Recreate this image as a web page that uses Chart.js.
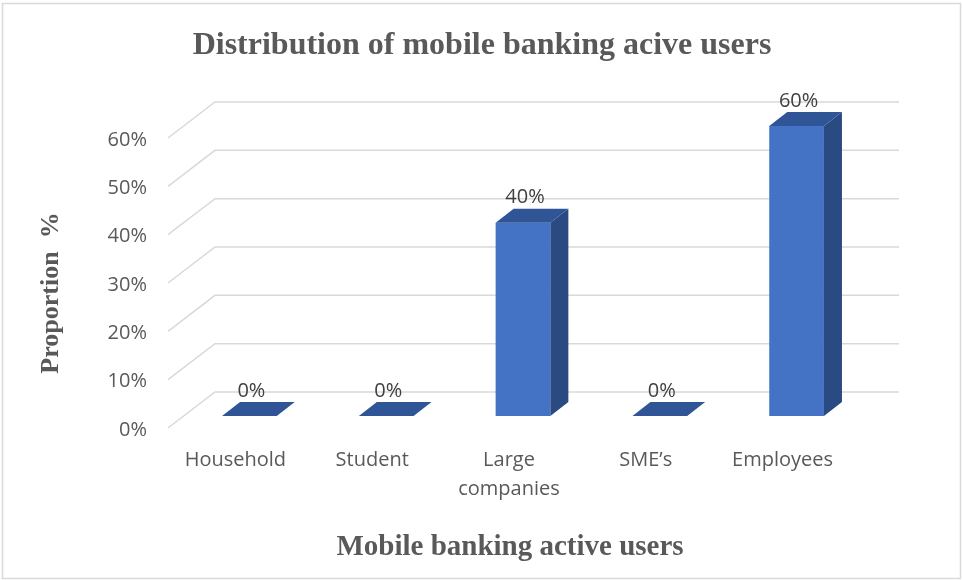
<!DOCTYPE html>
<html>
<head>
<meta charset="utf-8">
<script src="https://cdn.jsdelivr.net/npm/chart.js@4/dist/chart.umd.min.js"></script>
<style>
  html, body { margin: 0; padding: 0; background: #ffffff; }
  #wrap { width: 962px; height: 580px; }
</style>
</head>
<body>
<div id="wrap"><canvas id="c" width="962" height="580"></canvas></div>
<script>
// Categories and their share of active mobile banking users
const categories = ['Household', 'Student', ['Large', 'companies'], 'SME\u2019s', 'Employees'];
const shares = [0, 0, 0.40, 0, 0.60];
const yTickValues = [0, 0.1, 0.2, 0.3, 0.4, 0.5, 0.6];
const yTickLabels = ['0%', '10%', '20%', '30%', '40%', '50%', '60%'];

const chartTitle = 'Distribution of mobile banking acive users';
const xTitle = 'Mobile banking active users';
const yTitle = 'Proportion  %';

// 3D look: offsets of the floor's front and back edges from the bar plane
const FRONT = { dx: -13, dy: 12 };
const BACK = { dx: 34, dy: -24 };
const BAR_DEPTH = { dx: 18, dy: -14 };

const GRID = '#d9d9d9';
const TEXT = '#595959';
const LABEL = '#404040';
const TOP_FACE = '#2f5597';
const SIDE_FACE = '#2a4a82';
const TICK_FONT = '20px "Open Sans"';
const SERIF_BOLD = 'bold {s}px "Liberation Serif", "Times New Roman", serif';

function pct(v) { return Math.round(v * 100) + '%'; }

const depth3d = {
  id: 'depth3d',
  beforeDraw(chart) {
    const ctx = chart.ctx;
    ctx.save();
    ctx.fillStyle = '#ffffff';
    ctx.fillRect(0, 0, chart.width, chart.height);
    ctx.strokeStyle = GRID;
    ctx.lineWidth = 1.5;
    ctx.strokeRect(2.5, 3.5, chart.width - 4, chart.height - 5);
    ctx.restore();
  },
  beforeDatasetsDraw(chart) {
    const ctx = chart.ctx;
    const y = chart.scales.y;
    const area = chart.chartArea;
    ctx.save();
    ctx.strokeStyle = GRID;
    ctx.lineWidth = 1.5;
    yTickValues.forEach(v => {
      const py = y.getPixelForValue(v);
      ctx.beginPath();
      ctx.moveTo(area.left + FRONT.dx, py + FRONT.dy);
      ctx.lineTo(area.left + BACK.dx, py + BACK.dy);
      ctx.lineTo(area.right + BACK.dx, py + BACK.dy);
      ctx.stroke();
    });
    ctx.restore();
  },
  afterDatasetsDraw(chart) {
    const ctx = chart.ctx;
    const meta = chart.getDatasetMeta(0);
    ctx.save();
    meta.data.forEach((bar, i) => {
      const p = bar.getProps(['x', 'y', 'base', 'width'], true);
      const l = p.x - p.width / 2, r = p.x + p.width / 2;
      const top = Math.min(p.y, p.base), bottom = Math.max(p.y, p.base);
      // right side face
      if (bottom - top > 0.5) {
        ctx.fillStyle = SIDE_FACE;
        ctx.beginPath();
        ctx.moveTo(r, top);
        ctx.lineTo(r + BAR_DEPTH.dx, top + BAR_DEPTH.dy);
        ctx.lineTo(r + BAR_DEPTH.dx, bottom + BAR_DEPTH.dy);
        ctx.lineTo(r, bottom);
        ctx.closePath();
        ctx.fill();
      }
      // top face
      ctx.fillStyle = TOP_FACE;
      ctx.beginPath();
      ctx.moveTo(l, top);
      ctx.lineTo(l + BAR_DEPTH.dx, top + BAR_DEPTH.dy);
      ctx.lineTo(r + BAR_DEPTH.dx, top + BAR_DEPTH.dy);
      ctx.lineTo(r, top);
      ctx.closePath();
      ctx.fill();
      // value label above the bar
      ctx.fillStyle = LABEL;
      ctx.font = TICK_FONT;
      ctx.textAlign = 'center';
      ctx.textBaseline = 'middle';
      ctx.fillText(pct(shares[i]), p.x + 2, top + BAR_DEPTH.dy - 11);
    });
    ctx.restore();
  },
  afterDraw(chart) {
    const ctx = chart.ctx;
    const x = chart.scales.x, y = chart.scales.y;
    const area = chart.chartArea;
    ctx.save();
    // chart title
    ctx.fillStyle = TEXT;
    ctx.textAlign = 'center';
    ctx.textBaseline = 'middle';
    ctx.font = SERIF_BOLD.replace('{s}', 32);
    ctx.fillText(chartTitle, 482, 46);
    // value axis labels on the front edge of the floor
    ctx.font = TICK_FONT;
    ctx.textAlign = 'right';
    yTickValues.forEach((v, i) => {
      ctx.fillText(yTickLabels[i], area.left - 34, y.getPixelForValue(v) + 14);
    });
    // category labels
    ctx.textAlign = 'center';
    categories.forEach((c, i) => {
      const lines = Array.isArray(c) ? c : [c];
      const cx = x.getPixelForValue(i) - 14;
      lines.forEach((t, k) => ctx.fillText(t, cx, area.bottom + 44 + k * 29));
    });
    // axis titles
    ctx.font = SERIF_BOLD.replace('{s}', 29);
    ctx.fillText(xTitle, 510, 548);
    ctx.save();
    ctx.translate(51, 293);
    ctx.rotate(-Math.PI / 2);
    ctx.font = SERIF_BOLD.replace('{s}', 26);
    ctx.fillText(yTitle, 0, 0);
    ctx.restore();
    ctx.restore();
  }
};

new Chart(document.getElementById('c'), {
  type: 'bar',
  data: {
    labels: categories,
    datasets: [{
      data: shares,
      backgroundColor: '#4472c4',
      borderWidth: 0,
      categoryPercentage: 1,
      barPercentage: 0.4
    }]
  },
  options: {
    responsive: false,
    devicePixelRatio: 1,
    animation: false,
    layout: { padding: { left: 181, right: 97, top: 126, bottom: 164 } },
    plugins: {
      legend: { display: false },
      tooltip: { enabled: false },
      title: { display: false }
    },
    scales: {
      x: { display: false, offset: true },
      y: {
        display: false,
        min: 0,
        max: 0.6,
        ticks: { stepSize: 0.1, callback: (v, i) => yTickLabels[i] }
      }
    }
  },
  plugins: [depth3d]
});
</script>
</body>
</html>
